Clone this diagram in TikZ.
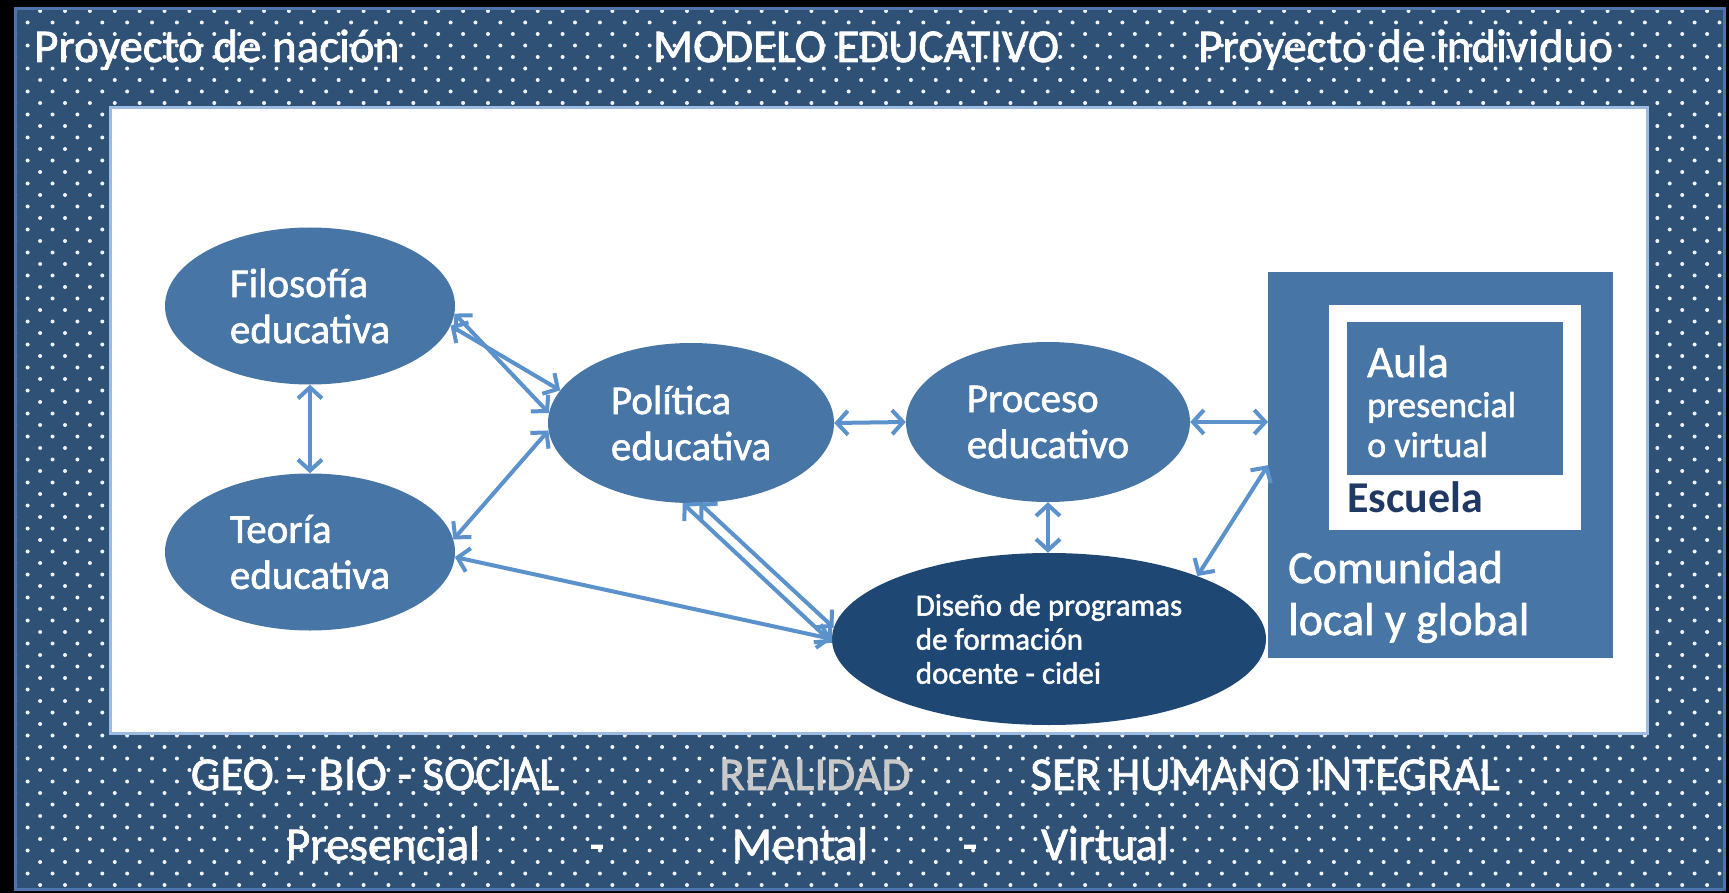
\documentclass[tikz,border=0pt]{standalone}
\usepackage{fontspec}
\setmainfont{Carlito}
\newfontfamily\glowfont{Carlito}[FakeBold=1.5]
\usetikzlibrary{shapes.geometric,arrows.meta}

\definecolor{panelblue}{HTML}{2F5176}
\definecolor{edgeblue}{HTML}{4D74AB}
\definecolor{ellblue}{HTML}{4675A6}
\definecolor{deepblue}{HTML}{1E4873}
\definecolor{arrowblue}{HTML}{5B92CC}
\definecolor{navytext}{HTML}{1F3864}
\definecolor{greytext}{HTML}{C9C9C9}
\definecolor{glowblue}{HTML}{9DBBE0}

\tikzset{
  ell/.style = {ellipse, fill=ellblue, text=white, align=left, inner sep=0pt,
                font=\glowfont\fontsize{41}{46}\selectfont},
  link/.style = {draw=arrowblue, line width=4pt,
                 {Straight Barb[length=11pt,width=24pt]}-{Straight Barb[length=11pt,width=24pt]}},
  band/.style = {text=white, anchor=base, inner sep=0pt, font=\glowfont\fontsize{47}{50}\selectfont},
  boxtxt/.style = {text=white, anchor=base west, inner sep=0pt},
}

\begin{document}
\begin{tikzpicture}[x=1pt, y=-1pt]
    \useasboundingbox (0,0) rectangle (1729,893);
    \fill[black] (0,0) rectangle (1729,893);

    % dotted frame
    \fill[panelblue] (15,9) rectangle (1724,889);
    \begin{scope}
        \clip (17,11) rectangle (1722,887);
        \foreach \j in {0,...,76} {
            \pgfmathsetmacro{\yy}{11+11.5*\j}
            \pgfmathsetmacro{\xo}{ifthenelse(isodd(\j),27.64,15.24)}
            \fill[white!92!ellblue] \foreach \k in {0,...,69} {(\xo+24.88*\k,\yy) circle[radius=2pt]};
        }
    \end{scope}
    \draw[edgeblue, line width=3pt] (15,9) rectangle (1724,889);
    \draw[glowblue, line width=3pt, fill=white] (110,108) rectangle (1647,733);

    % frame texts
    \node[band, anchor=base west] (nacion) at (34,62) {Proyecto de nación};
    \node[band] (modelo) at (856,62) {MODELO EDUCATIVO};
    \node[band, anchor=base west] (indiv) at (1198,62) {Proyecto de individuo};

    \node[band] (geo) at (375,790) {GEO – BIO - SOCIAL};
    \node[band, text=greytext] (realidad) at (815,790) {REALIDAD};
    \node[band] (ser) at (1265,790) {SER HUMANO INTEGRAL};
    \node[band] (presencial) at (383,860) {Presencial};
    \node[band] (dash1) at (597,860) {-};
    \node[band] (mental) at (800,860) {Mental};
    \node[band] (dash2) at (970,860) {-};
    \node[band] (virtual) at (1105,860) {Virtual};

    % ellipses
    \node[ell, minimum width=290pt, minimum height=157pt] (fil) at (310,306) {Filosofía\\educativa};
    \node[ell, minimum width=290pt, minimum height=157pt] (teo) at (310,552) {Teoría\\educativa};
    \node[ell, minimum width=286pt, minimum height=160pt] (pol) at (691,423) {Política\\educativa};
    \node[ell, minimum width=284pt, minimum height=160pt] (pro) at (1048,422) {Proceso\\educativo};
    \node[ell, fill=deepblue, minimum width=434pt, minimum height=172pt,
          font=\glowfont\fontsize{31}{34}\selectfont] (dis) at (1049,639) {Diseño de programas\\de formación\\docente - cidei};

    % nested boxes
    \node[rectangle, fill=ellblue, anchor=north west, minimum width=345pt, minimum height=386pt] (com) at (1268,272) {};
    \node[rectangle, fill=white, anchor=north west, minimum width=252pt, minimum height=225pt] (esc) at (1329,305) {};
    \node[rectangle, fill=ellblue, anchor=north west, minimum width=216pt, minimum height=153pt] (aula) at (1347,322) {};

    \node[boxtxt, font=\glowfont\fontsize{45}{50}\selectfont] (aulatxt) at (1367,377) {Aula};
    \node[boxtxt, font=\glowfont\fontsize{36}{40}\selectfont] (prestxt) at (1367,417) {presencial};
    \node[boxtxt, font=\glowfont\fontsize{36}{40}\selectfont] (virttxt) at (1367,457) {o virtual};
    \node[boxtxt, text=navytext, font=\fontsize{44}{48}\selectfont\bfseries] (esctxt) at (1347,512) {Escuela};
    \node[boxtxt, font=\glowfont\fontsize{46}{50}\selectfont] (comtxt) at (1288,583) {Comunidad};
    \node[boxtxt, font=\glowfont\fontsize{46}{50}\selectfont] (loctxt) at (1288,635) {local y global};

    % connectors
    \draw[link] (fil.south) -- (teo.north);
    \draw[link] (fil.-3) -- (pol.176);
    \draw[link] (fil.-8) -- (pol.166);
    \draw[link] (teo.5) -- (pol.183);
    \draw[link] (teo.-2) -- (dis.180);
    \draw[link] (pol.-96) -- (dis.181);
    \draw[link] (pol.-84) -- (dis.177);
    \draw[link] (pol.east) -- (pro.west);
    \draw[link] (pro.south) -- (pro.south |- dis.north);
    \draw[link] (pro.east) -- (pro.east -| com.west);
    \draw[link] (dis.23) -- (com.west);

\end{tikzpicture}
\end{document}
